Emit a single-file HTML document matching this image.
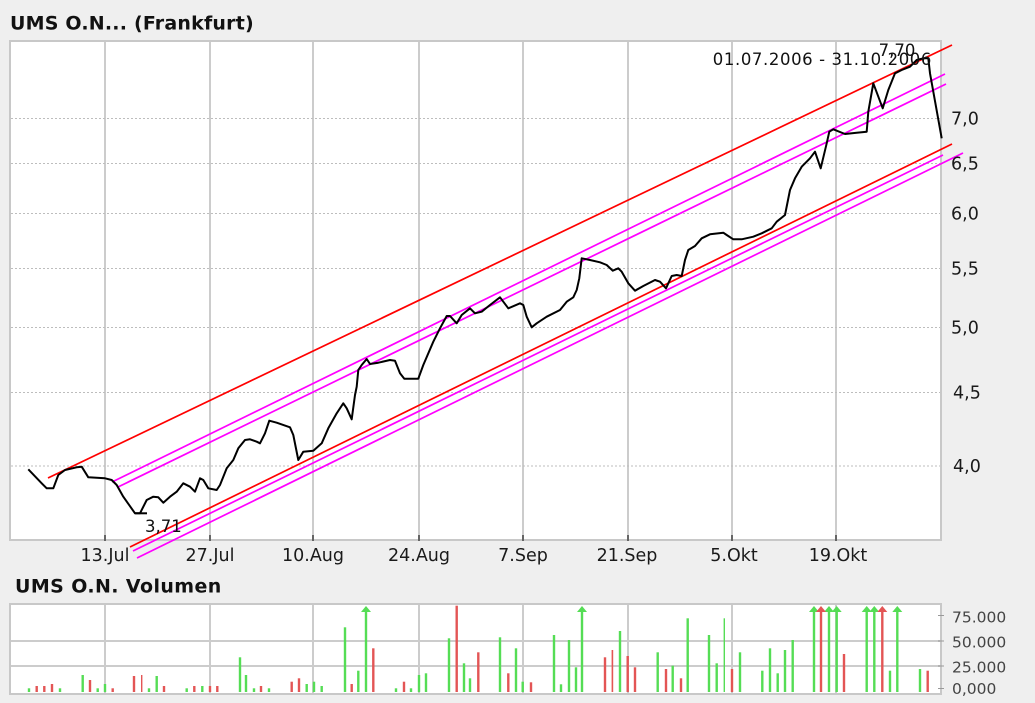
<!DOCTYPE html>
<html><head><meta charset="utf-8"><style>
html,body{margin:0;padding:0;background:#efefef;}
svg{display:block;}
text{font-family:"DejaVu Sans","Liberation Sans",sans-serif;}
</style></head><body>
<svg width="1035" height="703" viewBox="0 0 1035 703" xmlns="http://www.w3.org/2000/svg">
<rect x="0" y="0" width="1035" height="703" fill="#efefef"/>
<text x="10" y="29.5" font-size="19" font-weight="bold" fill="#111" letter-spacing="0.2">UMS O.N... (Frankfurt)</text>
<text x="15" y="592.5" font-size="19" font-weight="bold" fill="#111" letter-spacing="0.4">UMS O.N. Volumen</text>
<rect x="10" y="41" width="931" height="499" fill="#fff"/>
<g stroke="#cccccc" stroke-width="2">
<line x1="105" y1="41" x2="105" y2="540"/><line x1="210" y1="41" x2="210" y2="540"/>
<line x1="313" y1="41" x2="313" y2="540"/><line x1="419" y1="41" x2="419" y2="540"/>
<line x1="523" y1="41" x2="523" y2="540"/><line x1="628" y1="41" x2="628" y2="540"/>
<line x1="732" y1="41" x2="732" y2="540"/><line x1="836" y1="41" x2="836" y2="540"/>
</g>
<g stroke="#bdbdbd" stroke-width="1" stroke-dasharray="2,2">
<line x1="11" y1="466" x2="940" y2="466"/><line x1="11" y1="392.5" x2="940" y2="392.5"/>
<line x1="11" y1="327.5" x2="940" y2="327.5"/><line x1="11" y1="268.5" x2="940" y2="268.5"/>
<line x1="11" y1="213.5" x2="940" y2="213.5"/><line x1="11" y1="163.5" x2="940" y2="163.5"/>
<line x1="11" y1="118.5" x2="940" y2="118.5"/>
</g>
<rect x="10" y="41" width="931" height="499" fill="none" stroke="#c8c8c8" stroke-width="2"/>
<g stroke="#000" stroke-width="1">
<line x1="105" y1="535" x2="105" y2="541"/><line x1="210" y1="535" x2="210" y2="541"/>
<line x1="313" y1="535" x2="313" y2="541"/><line x1="419" y1="535" x2="419" y2="541"/>
<line x1="523" y1="535" x2="523" y2="541"/><line x1="628" y1="535" x2="628" y2="541"/>
<line x1="732" y1="535" x2="732" y2="541"/><line x1="836" y1="535" x2="836" y2="541"/>
</g>
<g stroke-width="1.7" fill="none">
<line x1="48" y1="478" x2="952" y2="45" stroke="#ff0000"/>
<line x1="112" y1="482" x2="945" y2="74" stroke="#ff00ff"/>
<line x1="118" y1="487" x2="946" y2="84" stroke="#ff00ff"/>
<line x1="130" y1="547" x2="952" y2="144" stroke="#ff0000"/>
<line x1="133" y1="551" x2="943" y2="155" stroke="#ff00ff"/>
<line x1="137" y1="558" x2="963" y2="153" stroke="#ff00ff"/>
</g>
<polyline fill="none" stroke="#000" stroke-width="2" stroke-linejoin="round" points="28.3,469.3 41.7,483.3 46.7,488.3 53.3,488.3 58.3,475 65,470 76.7,467.3 81.7,466.7 88.3,477.3 105,478.3 111.7,480 116.7,485 123.3,496.7 135,513.3 140,513.3 146.7,500 153.3,496.7 158.3,497.3 163.3,502.7 170,496.7 176.7,491.7 183.3,483.3 190,486.7 195,491.7 200,478.3 203.3,480 208.3,488.3 216.7,490 220,485 226.7,468.3 233.3,460 238.3,448.3 245,440 250,439.3 256.7,441.7 260,443.3 265,433.3 269.3,420.7 276.7,422.7 290,427.3 293.3,435 298.3,460 303.3,451.7 313.3,450.7 321.7,443.3 328.3,428.3 336.7,413.3 343.3,403.3 346.7,408.3 351.7,419.3 355,395 356.7,386.7 358.3,370 361.7,365 366.7,359 370,364 378.3,362.7 390,360 395,360.7 400,373.3 404.3,378.7 418.3,378.7 423.3,365 433.3,341.7 440,328.3 446.7,316 450,316 456.7,323.3 461.7,315 470,308.3 475,313.3 481.7,311.7 490,305 500,297.3 508.3,308.3 520,303.3 523.3,305 526.7,316.7 531.7,327.3 536.7,323.3 546.7,316.7 560,310 566.7,301.7 573.3,297.3 576.7,290 579.3,278.3 581.7,258.3 590,260 600,262.3 606.7,265 612.7,270.7 618.3,268.3 621.7,271.7 628.3,283.3 635,290.7 643.3,286 655,280 660,281.7 666,288.3 671.7,276 676.7,275 681.7,276 685,260 688.3,250 695,246 701.7,238.3 710,234.3 723.3,232.7 726.7,235 733.3,239.3 741.7,239.3 753.3,236.7 761.7,233.3 771.7,228.3 776.7,221.7 785,215 790,190 795,178.3 801.7,166.7 810,158.3 815,151.7 820.7,168.3 826.7,143.3 829.3,131.7 833.3,129.3 845,134 856.7,132.7 866.7,131.7 868.3,111.7 873.3,83.3 882.7,108.3 888.3,90 895,73.3 901.7,70 910,66.7 916.7,60 923.3,58.3 928.3,58.3 930,73.3 941.7,138.3"/>
<line x1="135" y1="513.3" x2="147" y2="513.3" stroke="#000" stroke-width="2"/>
<text x="145" y="532" font-size="16.5" fill="#111">3,71</text>
<text x="897" y="56" font-size="16.5" fill="#111" text-anchor="middle">7,70</text>
<text x="932" y="65" font-size="16.5" fill="#111" text-anchor="end" letter-spacing="0.6">01.07.2006 - 31.10.2006</text>
<g font-size="17.5" fill="#1a1a1a">
<text x="951" y="124.5">7,0</text>
<text x="951" y="169.5">6,5</text>
<text x="951" y="219.5">6,0</text>
<text x="951" y="274.5">5,5</text>
<text x="951" y="333.5">5,0</text>
<text x="953" y="398.5">4,5</text>
<text x="953" y="472">4,0</text>
</g>
<g font-size="17.5" fill="#1a1a1a" text-anchor="middle">
<text x="105" y="561">13.Jul</text>
<text x="210" y="561">27.Jul</text>
<text x="313" y="561">10.Aug</text>
<text x="419" y="561">24.Aug</text>
<text x="523" y="561">7.Sep</text>
<text x="627" y="561">21.Sep</text>
<text x="734" y="561">5.Okt</text>
<text x="838" y="561">19.Okt</text>
</g>
<rect x="10" y="604" width="931" height="90" fill="#fff"/>
<g stroke="#cccccc" stroke-width="2">
<line x1="105" y1="604" x2="105" y2="694"/><line x1="210" y1="604" x2="210" y2="694"/>
<line x1="313" y1="604" x2="313" y2="694"/><line x1="419" y1="604" x2="419" y2="694"/>
<line x1="523" y1="604" x2="523" y2="694"/><line x1="628" y1="604" x2="628" y2="694"/>
<line x1="732" y1="604" x2="732" y2="694"/><line x1="836" y1="604" x2="836" y2="694"/>
<line x1="10" y1="641" x2="941" y2="641"/><line x1="10" y1="666" x2="941" y2="666"/>
</g>
<rect x="10" y="604" width="931" height="90" fill="none" stroke="#c8c8c8" stroke-width="2"/>
<g stroke="#999" stroke-width="1">
<line x1="938" y1="615.5" x2="944" y2="615.5"/><line x1="938" y1="641" x2="944" y2="641"/>
<line x1="938" y1="666" x2="944" y2="666"/><line x1="938" y1="688.5" x2="944" y2="688.5"/>
</g>
<g font-size="15.5" fill="#444">
<text x="952" y="622.5">75.000</text>
<text x="952" y="647.5">50.000</text>
<text x="952" y="672.5">25.000</text>
<text x="952" y="694">0,000</text>
</g>
<g fill="#55dd55">
<rect x="27.8" y="688.3" width="2.4" height="3.7"/>
<rect x="58.8" y="688.3" width="2.4" height="3.7"/>
<rect x="81.5" y="675" width="2.4" height="17"/>
<rect x="96.5" y="688.3" width="2.4" height="3.7"/>
<rect x="103.8" y="684" width="2.4" height="8"/>
<rect x="147.8" y="688.3" width="2.4" height="3.7"/>
<rect x="155.5" y="676" width="2.4" height="16"/>
<rect x="185.5" y="688.3" width="2.4" height="3.7"/>
<rect x="201.1" y="686" width="2.4" height="6"/>
<rect x="238.8" y="657.3" width="2.4" height="34.7"/>
<rect x="244.8" y="675" width="2.4" height="17"/>
<rect x="252.8" y="688.3" width="2.4" height="3.7"/>
<rect x="267.8" y="688.3" width="2.4" height="3.7"/>
<rect x="305.5" y="684" width="2.4" height="8"/>
<rect x="312.8" y="681.7" width="2.4" height="10.3"/>
<rect x="320.5" y="686" width="2.4" height="6"/>
<rect x="343.8" y="627.3" width="2.4" height="64.7"/>
<rect x="357.1" y="670.7" width="2.4" height="21.3"/>
<rect x="364.8" y="609" width="2.4" height="83"/>
<rect x="394.8" y="688.3" width="2.4" height="3.7"/>
<rect x="409.8" y="688.3" width="2.4" height="3.7"/>
<rect x="417.8" y="675" width="2.4" height="17"/>
<rect x="424.8" y="673.3" width="2.4" height="18.7"/>
<rect x="447.8" y="638.3" width="2.4" height="53.7"/>
<rect x="462.8" y="663.3" width="2.4" height="28.7"/>
<rect x="468.8" y="678.3" width="2.4" height="13.7"/>
<rect x="498.8" y="637.3" width="2.4" height="54.7"/>
<rect x="514.8" y="648.3" width="2.4" height="43.7"/>
<rect x="521.5" y="681.7" width="2.4" height="10.3"/>
<rect x="552.8" y="635" width="2.4" height="57"/>
<rect x="559.8" y="684.3" width="2.4" height="7.7"/>
<rect x="567.8" y="640" width="2.4" height="52"/>
<rect x="574.8" y="667.3" width="2.4" height="24.7"/>
<rect x="580.8" y="609" width="2.4" height="83"/>
<rect x="618.8" y="631" width="2.4" height="61"/>
<rect x="656.5" y="652.3" width="2.4" height="39.7"/>
<rect x="671.5" y="665.7" width="2.4" height="26.3"/>
<rect x="686.5" y="618.3" width="2.4" height="73.7"/>
<rect x="707.8" y="635" width="2.4" height="57"/>
<rect x="715.5" y="663.3" width="2.4" height="28.7"/>
<rect x="723.6" y="618.3" width="1.4" height="73.7"/>
<rect x="738.8" y="652.3" width="2.4" height="39.7"/>
<rect x="761.1" y="670.7" width="2.4" height="21.3"/>
<rect x="768.8" y="648.3" width="2.4" height="43.7"/>
<rect x="776.5" y="673.3" width="2.4" height="18.7"/>
<rect x="783.8" y="650" width="2.4" height="42"/>
<rect x="791.5" y="640" width="2.4" height="52"/>
<rect x="812.8" y="609" width="2.4" height="83"/>
<rect x="827.8" y="609" width="2.4" height="83"/>
<rect x="835.5" y="609" width="2.4" height="83"/>
<rect x="865.5" y="609" width="2.4" height="83"/>
<rect x="873.1" y="609" width="2.4" height="83"/>
<rect x="888.8" y="670.7" width="2.4" height="21.3"/>
<rect x="896.1" y="609" width="2.4" height="83"/>
<rect x="918.8" y="669" width="2.4" height="23"/>
<polygon points="361,612 366,606 371,612"/>
<polygon points="577,612 582,606 587,612"/>
<polygon points="809,612 814,606 819,612"/>
<polygon points="824,612 829,606 834,612"/>
<polygon points="831.7,612 836.7,606 841.7,612"/>
<polygon points="861.7,612 866.7,606 871.7,612"/>
<polygon points="869.3,612 874.3,606 879.3,612"/>
<polygon points="892.3,612 897.3,606 902.3,612"/>
</g>
<g fill="#e35555">
<rect x="35.5" y="686" width="2.4" height="6"/>
<rect x="43.1" y="686" width="2.4" height="6"/>
<rect x="50.8" y="684" width="2.4" height="8"/>
<rect x="88.8" y="680" width="2.4" height="12"/>
<rect x="111.5" y="688.3" width="2.4" height="3.7"/>
<rect x="132.8" y="676" width="2.4" height="16"/>
<rect x="141" y="675" width="1.4" height="17"/>
<rect x="162.8" y="686" width="2.4" height="6"/>
<rect x="193.1" y="686" width="2.4" height="6"/>
<rect x="208.8" y="686" width="2.4" height="6"/>
<rect x="216.1" y="686" width="2.4" height="6"/>
<rect x="259.8" y="686" width="2.4" height="6"/>
<rect x="290.5" y="681.7" width="2.4" height="10.3"/>
<rect x="297.8" y="678.3" width="2.4" height="13.7"/>
<rect x="350.5" y="684" width="2.4" height="8"/>
<rect x="372.1" y="648.3" width="2.4" height="43.7"/>
<rect x="402.8" y="681.7" width="2.4" height="10.3"/>
<rect x="455.5" y="605.7" width="2.4" height="86.3"/>
<rect x="477.1" y="652.3" width="2.4" height="39.7"/>
<rect x="507.1" y="673.3" width="2.4" height="18.7"/>
<rect x="529.8" y="682.3" width="2.4" height="9.7"/>
<rect x="603.8" y="657.3" width="2.4" height="34.7"/>
<rect x="611.6" y="650" width="1.6" height="42"/>
<rect x="626.5" y="656" width="2.4" height="36"/>
<rect x="633.8" y="667.3" width="2.4" height="24.7"/>
<rect x="664.8" y="669" width="2.4" height="23"/>
<rect x="679.8" y="678.3" width="2.4" height="13.7"/>
<rect x="730.8" y="669" width="2.4" height="23"/>
<rect x="819.8" y="609" width="2.4" height="83"/>
<rect x="842.8" y="654" width="2.4" height="38"/>
<rect x="881.1" y="609" width="2.4" height="83"/>
<rect x="926.5" y="670.7" width="2.4" height="21.3"/>
<polygon points="816,612 821,606 826,612"/>
<polygon points="877.3,612 882.3,606 887.3,612"/>
</g>
</svg>
</body></html>
